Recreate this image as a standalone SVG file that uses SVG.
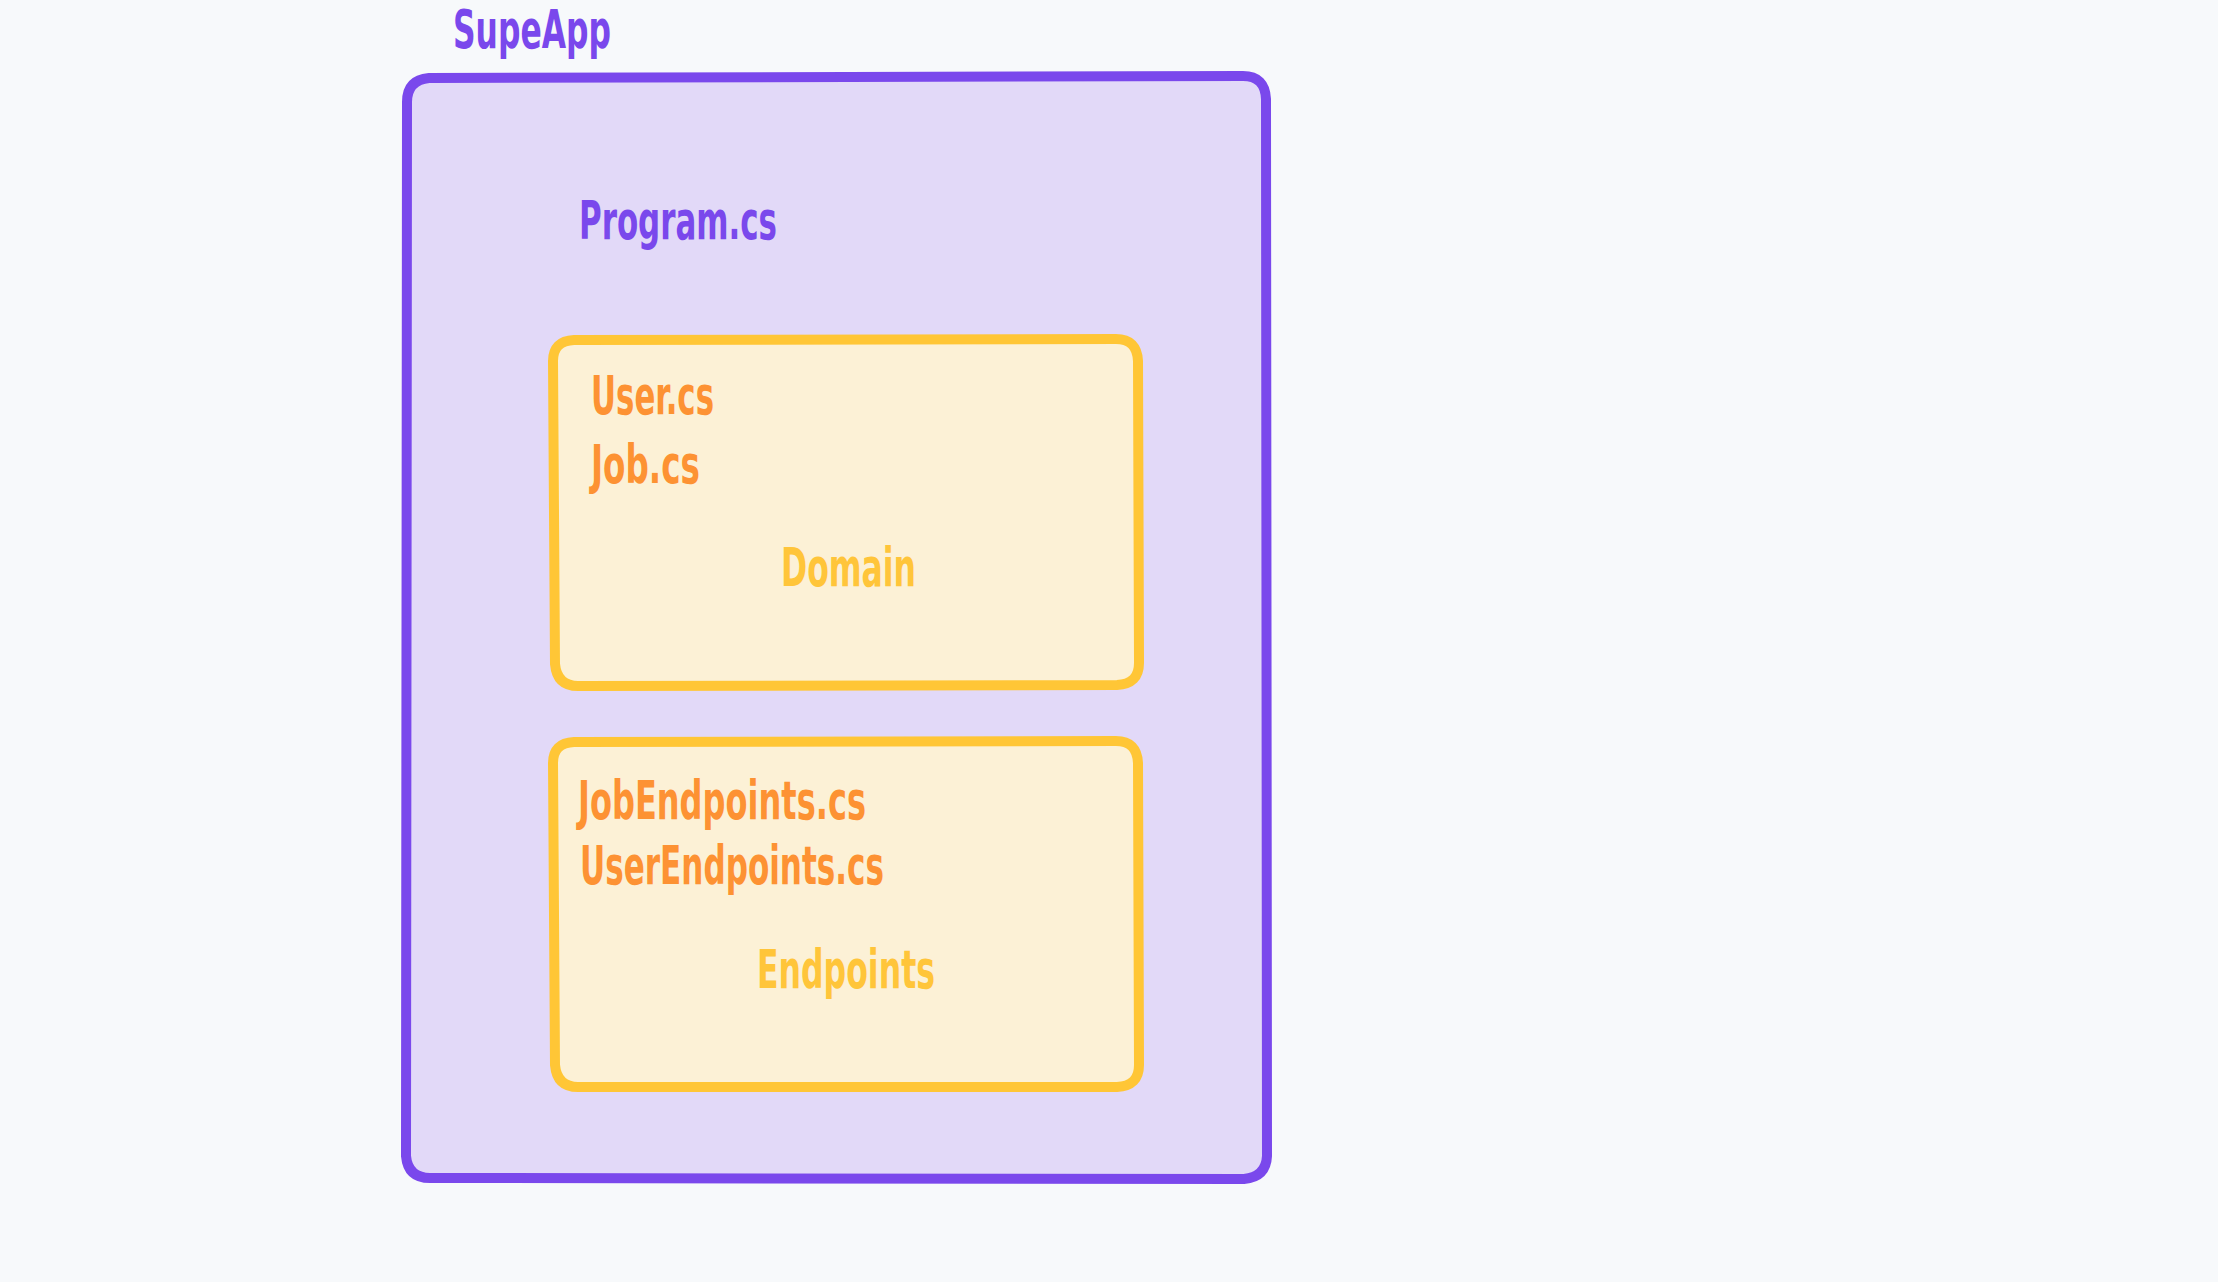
<svg xmlns="http://www.w3.org/2000/svg" width="2218" height="1282" viewBox="0 0 2218 1282">
  <style>
    .lbl { font-family: "Liberation Sans Narrow", "DejaVu Sans Condensed", "Liberation Sans", sans-serif; font-weight: bold; font-size: 53px; }
    .purple { fill: #7a48ec; }
    .orange { fill: #fd9233; }
    .yellow { fill: #ffc53a; }
    .outer { fill: #e2d9f8; stroke: #7a48ec; stroke-width: 10; }
    .inner { fill: #fcf1d6; stroke: #ffc636; stroke-width: 10; }
  </style>
  <rect width="2218" height="1282" fill="#f7f9fb"/>
  <g id="supeapp">
    <text class="lbl purple" x="453" y="48" textLength="158" lengthAdjust="spacingAndGlyphs">SupeApp</text>
    <path class="outer" d="M429 78 Q407 80 407 102 L406 1156 Q408 1178 430 1178 L1244 1179 Q1266 1177 1267 1156 L1266 99 Q1265 76 1243 76 Z"/>
    <text class="lbl purple" x="579" y="239" textLength="198" lengthAdjust="spacingAndGlyphs">Program.cs</text>
  </g>
  <g id="domain">
    <path class="inner" d="M574 340 Q553 341 553 361 L555 664 Q557 686 578 686 L1117 685 Q1139 684 1139 663 L1138 361 Q1137 339 1116 339 Z"/>
    <text class="lbl orange" x="591" y="414" textLength="123" lengthAdjust="spacingAndGlyphs">User.cs</text>
    <text class="lbl orange" x="591" y="483" textLength="109" lengthAdjust="spacingAndGlyphs">Job.cs</text>
    <text class="lbl yellow" x="781" y="586" textLength="135" lengthAdjust="spacingAndGlyphs">Domain</text>
  </g>
  <g id="endpoints">
    <path class="inner" d="M574 742 Q553 743 553 763 L555 1065 Q557 1087 578 1087 L1117 1087 Q1139 1086 1139 1065 L1138 763 Q1137 741 1116 741 Z"/>
    <text class="lbl orange" x="578" y="819" textLength="288" lengthAdjust="spacingAndGlyphs">JobEndpoints.cs</text>
    <text class="lbl orange" x="580" y="884" textLength="304" lengthAdjust="spacingAndGlyphs">UserEndpoints.cs</text>
    <text class="lbl yellow" x="757" y="988" textLength="178" lengthAdjust="spacingAndGlyphs">Endpoints</text>
  </g>
  <g id="connectors"/>
</svg>
